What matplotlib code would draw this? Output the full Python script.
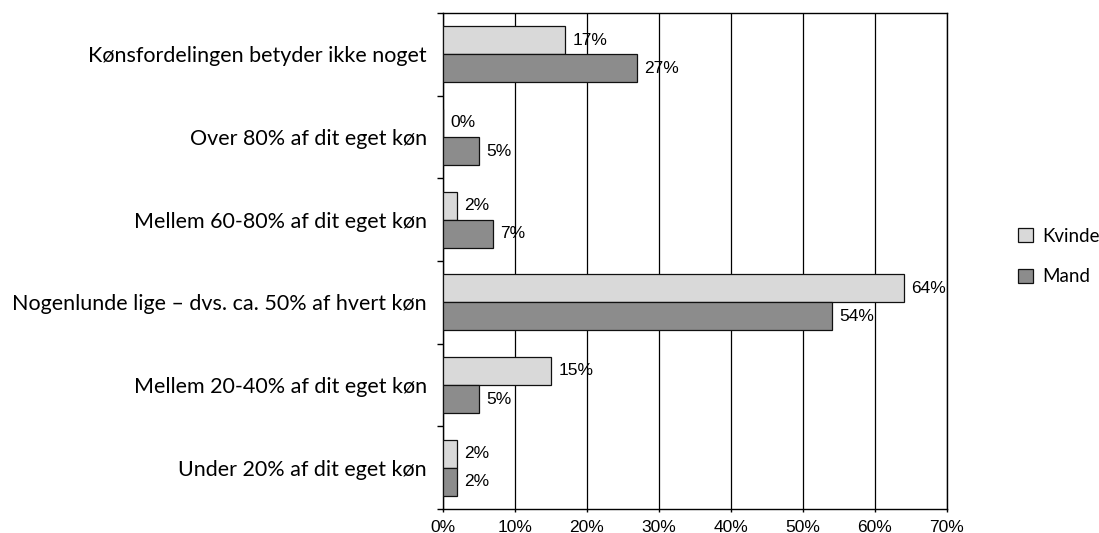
import matplotlib
matplotlib.use("Agg")
import matplotlib.pyplot as plt
import numpy as np
from matplotlib.patches import Patch

categories = [
    "Kønsfordelingen betyder ikke noget",
    "Over 80% af dit eget køn",
    "Mellem 60-80% af dit eget køn",
    "Nogenlunde lige – dvs. ca. 50% af hvert køn",
    "Mellem 20-40% af dit eget køn",
    "Under 20% af dit eget køn",
]
kvinde = [17, 0, 2, 64, 15, 2]
mand = [27, 5, 7, 54, 5, 2]
series_names = ["Kvinde", "Mand"]
xticks = [0, 10, 20, 30, 40, 50, 60, 70]
xtick_labels = [f"{v}%" for v in xticks]

c_light = "#d9d9d9"
c_dark = "#8c8c8c"
lab_font = "Lato"
num_font = "Liberation Sans"

fig = plt.figure(figsize=(10.99, 5.33), dpi=100)
ax = fig.add_axes([443/1099, 1 - 509/533, (947-443)/1099, (509-13)/533])

n = len(categories)
y = np.arange(n)
h = 0.34
ax.barh(y - h/2, kvinde, height=h, color=c_light, edgecolor="#111111", linewidth=0.9, zorder=3)
ax.barh(y + h/2, mand, height=h, color=c_dark, edgecolor="#111111", linewidth=0.9, zorder=3)

for i in range(n):
    ax.text(kvinde[i] + 1.0, y[i] - h/2, f"{kvinde[i]}%", va="center", ha="left",
            fontsize=12.5, family=num_font, zorder=4)
    ax.text(mand[i] + 1.0, y[i] + h/2, f"{mand[i]}%", va="center", ha="left",
            fontsize=12.5, family=num_font, zorder=4)

ax.set_ylim(n - 0.5, -0.5)
ax.set_xlim(0, 70)
ax.set_xticks(xticks)
ax.set_xticklabels(xtick_labels, family=num_font, fontsize=12.5)
ax.set_yticks(np.arange(n + 1) - 0.5, minor=False)
ax.set_yticklabels([])
ax.set_yticks(y, minor=True)
ax.set_yticklabels(categories, minor=True, family=lab_font, fontsize=15.5)
ax.tick_params(axis="y", which="minor", length=0, pad=11.5)
ax.tick_params(axis="y", which="major", length=4.5, width=1, direction="out")
ax.tick_params(axis="x", length=2.5, width=1, direction="out", pad=5.5)
ax.grid(axis="x", color="black", linewidth=0.9, zorder=0)
for s in ["left", "bottom", "top", "right"]:
    ax.spines[s].set_linewidth(1)

handles = [Patch(facecolor=c_light, edgecolor="#111111", linewidth=0.9),
           Patch(facecolor=c_dark, edgecolor="#111111", linewidth=0.9)]
fig.legend(handles, series_names, loc="center left", bbox_to_anchor=(1018/1099, 1 - 256.5/533),
           frameon=False, prop={"family": lab_font, "size": 13.5},
           handlelength=0.8, handleheight=0.8, handletextpad=0.5, labelspacing=1.25,
           borderaxespad=0, borderpad=0)

fig.savefig("out.png", dpi=100, facecolor="white")
